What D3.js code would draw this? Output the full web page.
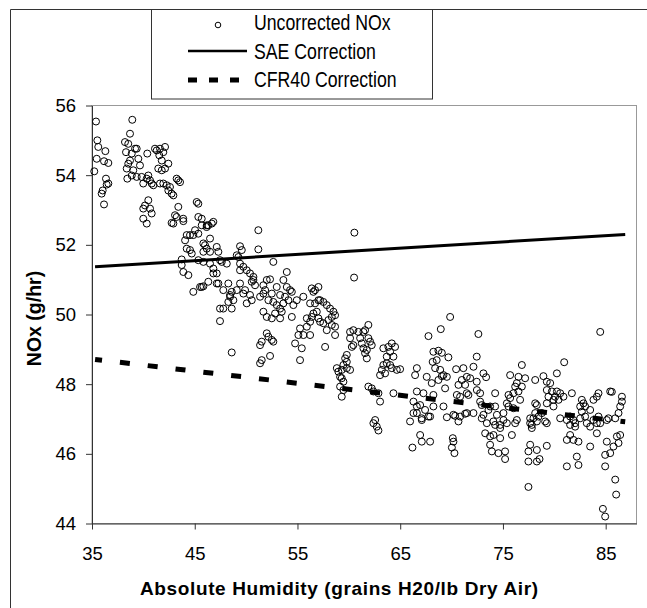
<!DOCTYPE html>
<html>
<head>
<meta charset="utf-8">
<script src="https://cdn.jsdelivr.net/npm/d3@7"></script>
<style>
body { margin:0; background:#fff; }
text { font-family: Arial, "Liberation Sans", sans-serif; }
</style>
</head>
<body>
<div id="main"></div>
<script>
// [humidity, NOx]
const noxPoints = [
[35.39,55.54],[35.52,55.00],[35.61,54.81],[35.46,54.47],[35.22,54.11],[36.30,54.69],[36.17,54.40],[36.59,54.35],[36.36,53.90],[36.59,53.76],
[36.04,53.56],[35.94,53.47],[36.17,53.16],[36.43,53.73],
[38.92,55.59],[38.70,55.19],[38.21,54.95],[38.53,54.90],[38.31,54.66],[39.19,54.76],[39.35,54.76],[38.87,54.62],[39.51,54.47],[38.70,54.42],
[38.53,54.33],[38.38,54.19],[39.02,54.14],[38.44,53.90],[38.87,53.99],[39.35,53.95],[39.67,54.28],[39.83,53.95],[39.99,53.76],[40.48,53.99],
[40.33,53.90],[40.65,53.85],[40.97,53.71],[40.81,53.76],[40.38,54.62],[41.13,54.76],[41.30,54.71],[41.62,54.76],[42.11,54.81],[41.94,54.66],
[41.55,54.57],[41.79,54.42],[42.43,54.33],[41.45,54.19],[41.79,54.14],[42.11,54.19],[41.62,53.76],[41.94,53.76],[42.27,53.71],[42.59,53.66],
[42.75,53.47],[42.92,53.42],[42.43,53.56],[43.24,53.90],[43.40,53.85],[43.57,53.80],[40.16,53.13],[39.99,53.04],[40.65,53.04],[40.81,52.90],
[39.99,52.75],[40.33,52.61],[40.48,53.28],[43.40,53.09],[43.08,52.85],[43.24,52.80],[43.88,52.75],[42.75,52.63],[45.19,53.23],[45.35,53.18],
[45.35,52.80],[45.68,52.75],[46.81,52.66],[46.32,52.56],[46.16,52.51],
[42.92,52.61],[43.89,52.68],[45.68,52.56],[46.17,52.56],[46.66,52.61],[45.03,52.42],[44.22,52.28],[44.54,52.28],[44.86,52.28],[45.35,52.32],
[46.49,52.18],[44.06,52.13],[45.84,52.04],[46.00,51.99],[44.22,51.89],[44.54,51.85],[44.71,51.75],[46.17,51.89],[46.49,51.80],[47.14,51.94],
[47.30,51.80],[49.41,51.96],[49.58,51.85],[49.09,51.70],[51.19,52.42],[51.19,51.87],[43.73,51.58],[43.73,51.42],[43.89,51.22],[44.38,51.13],
[45.35,51.56],[45.84,51.51],[46.49,51.46],[46.81,51.32],[47.14,51.18],[47.46,51.56],[48.12,51.46],[49.25,51.65],[49.41,51.46],[49.73,51.37],
[50.06,51.27],[50.38,51.18],[50.71,51.08],[50.55,50.94],[50.87,50.84],[52.65,51.51],[53.96,51.22],[52.01,50.99],[52.33,51.01],[46.32,50.94],
[45.68,50.79],[47.30,50.89],[48.27,50.89],[49.41,50.89],[47.78,50.70],[49.09,50.70],[44.86,50.65],[48.44,50.56],[49.73,50.60],[50.38,50.56],
[51.85,50.70],[52.98,50.79],[53.31,50.56],[51.36,50.51],
[45.84,50.81],[47.14,50.89],[46.81,51.18],[47.46,50.17],[47.46,49.81],
[45.84,51.80],[47.63,51.51],[60.51,51.06],[60.54,52.35],[49.41,51.27],[50.71,50.99],[45.52,50.79],[48.60,50.65],[49.90,50.70],[48.44,50.51],[48.76,50.41],
[48.27,50.36],[47.78,50.17],[48.60,50.17],[50.06,50.32],[50.55,50.41],[51.68,50.84],[53.63,50.99],[53.96,50.79],[54.28,50.70],[54.45,50.65],
[51.68,50.60],[52.50,50.60],[52.17,50.41],[52.65,50.36],[52.98,50.27],[53.31,50.17],[53.63,50.32],[53.79,50.51],[54.12,50.41],[54.60,50.27],
[54.93,50.41],[51.68,50.08],[52.01,49.93],[52.82,50.03],[53.31,49.89],[52.50,49.89],[53.47,50.08],[54.45,49.93],[55.57,50.51],[56.39,50.75],
[56.55,50.65],[56.71,50.70],[57.04,50.79],[56.23,50.32],[56.71,50.32],[57.04,50.41],[57.20,50.41],[57.52,50.36],[57.85,50.27],[58.17,50.17],
[58.50,50.08],[58.66,49.98],[58.34,49.93],[58.01,49.84],[58.34,49.70],[58.66,49.65],[57.85,49.55],[58.66,49.41],[57.04,49.89],[57.20,49.79],
[57.52,49.75],[56.88,50.08],[56.55,50.03],[56.39,49.93],[55.91,49.89],[56.23,49.79],[55.91,49.65],[55.25,49.60],[55.58,49.41],[55.09,49.41],
[54.77,49.17],[55.42,49.03],[55.25,48.69],[56.23,49.41],[57.69,49.07],[52.01,49.46],[52.17,49.36],[52.50,49.27],[52.65,49.22],[51.52,49.22],
[51.36,49.12],[51.52,48.69],[51.36,48.60],[52.33,48.81],[48.60,48.91],[60.12,49.50],[60.44,49.55],[60.93,49.50],[61.42,49.50],[61.90,49.70],
[61.58,49.55],[60.12,49.32],[60.44,49.12],[60.29,49.07],[61.10,49.32],[61.26,49.17],[61.42,49.03],[61.75,48.98],[61.58,48.89],[61.90,49.32],
[62.07,49.22],[62.23,49.12],[61.75,48.74],[59.80,48.84],[59.64,48.74],[59.80,48.64],[59.47,48.55],[59.31,48.41],[59.80,48.46],[60.12,48.41],
[58.83,48.46],[58.98,48.36],[59.15,48.21],[59.31,48.17],[59.47,48.07],[59.15,47.93],[59.47,47.83],[59.31,47.64],[61.90,47.93],[62.23,47.88],
[62.39,47.79],[62.88,47.74],[63.04,47.50],[64.34,47.74],[62.56,46.97],[62.39,46.88],[62.72,46.78],[63.36,49.03],[63.85,49.07],[64.18,49.17],
[64.50,49.07],[64.02,48.93],[64.34,48.79],[63.69,48.79],[63.36,48.55],[63.69,48.60],[64.02,48.55],[64.18,48.46],[64.67,48.41],[63.21,48.41],
[63.04,48.26],[63.53,48.31],[66.62,48.46],[66.45,48.26],[66.29,47.50],[66.62,47.36],[66.29,47.17],[65.96,46.93],[62.88,46.67],
[64.99,48.43],[69.86,49.93],[68.95,49.58],[67.75,49.38],[72.61,49.44],[84.47,49.50],[68.23,48.93],[68.72,48.96],[69.05,48.90],[69.69,48.77],
[68.16,48.64],[68.55,48.69],[68.40,48.46],[68.89,48.41],[69.21,48.26],[69.54,48.21],[69.05,48.23],[67.58,48.21],[68.07,48.03],[68.72,48.12],
[69.37,47.88],[70.44,48.43],[71.15,48.46],[72.13,48.50],[72.45,48.79],[71.48,48.21],[71.81,48.17],[71.00,48.12],[70.67,47.98],[71.32,47.98],
[72.45,48.07],[73.10,48.31],[73.36,48.20],[70.51,47.69],[70.83,47.64],[71.48,47.74],[71.64,47.69],[72.46,47.83],[72.78,47.74],[72.78,47.50],
[74.24,47.74],[66.62,47.79],[67.26,47.74],[68.23,47.69],[66.94,47.40],[67.42,47.26],[68.23,47.36],[66.62,47.17],[67.09,47.02],[67.75,47.07],
[69.21,47.36],[70.18,47.12],[70.83,47.07],[70.67,46.93],[71.48,47.17],[72.13,47.17],[72.94,47.40],[73.10,47.12],[73.59,47.26],[73.75,47.36],
[74.24,47.36],[74.41,47.12],[73.43,46.88],[74.07,46.93],[74.73,46.83],[75.05,47.17],[75.38,47.45],[75.54,47.36],[75.70,47.60],[76.02,47.74],
[76.19,47.93],[76.35,48.03],[76.51,47.79],[76.84,47.93],[75.70,48.26],[76.51,48.21],[76.84,48.55],[77.16,48.17],[76.67,47.55],[76.02,47.31],
[76.35,46.97],[76.19,46.88],[75.38,46.88],[75.54,47.69],[78.14,48.12],[78.94,48.23],[79.27,48.07],[79.60,48.03],[79.27,47.83],[79.76,47.79],
[80.08,47.64],[80.25,47.79],[80.57,47.74],[80.89,47.64],[80.41,47.55],[79.92,47.55],[79.43,47.64],[80.25,48.31],[80.96,48.63],[81.71,47.74],
[78.14,47.45],[78.30,47.40],[79.27,47.45],[78.79,47.17],[77.97,47.02],[78.30,46.93],[79.11,46.93],[77.65,46.88],[79.92,47.36],[82.68,47.55],
[82.84,47.45],[83.00,47.36],[83.49,47.26],[83.81,47.55],[84.14,47.64],[84.30,47.74],[82.52,47.36],[82.68,47.21],[83.00,47.07],[83.81,46.97],
[84.30,47.07],[81.54,47.07],[81.86,46.97],[82.03,46.88],[83.16,46.88],[84.47,46.88],[85.27,47.02],[85.44,47.79],[85.60,47.78],[86.58,47.64],
[86.58,47.50],[86.41,47.36],[86.25,47.17],[85.93,47.02],
[67.10,46.97],[67.91,47.07],[69.54,47.05],[70.35,47.09],[71.32,47.15],[72.94,47.02],[74.24,46.83],[75.05,46.97],[77.65,47.02],[77.81,46.83],
[78.14,47.17],[78.46,47.07],[79.27,46.88],[80.57,47.02],[81.22,46.97],[81.54,46.83],[82.03,46.78],[82.52,47.02],[83.49,46.78],[84.14,46.88],
[85.11,46.97],[66.94,46.54],[67.10,46.35],[67.91,46.35],[66.19,46.18],[70.12,46.45],[70.18,46.35],[70.03,46.18],[70.28,46.02],[73.27,46.59],
[73.75,46.50],[74.08,46.54],[73.75,46.26],[73.92,46.07],[74.56,46.02],[75.21,46.07],[75.21,45.85],[74.73,46.45],[74.73,46.74],[75.87,46.54],
[77.81,46.74],[77.65,46.26],[77.48,46.07],[78.30,46.11],[77.48,45.78],[78.30,45.78],[78.56,45.85],[79.27,46.23],[77.48,45.05],[81.22,46.40],
[81.86,46.40],[82.35,46.35],[81.54,46.54],[81.22,45.64],[82.19,45.92],[82.35,45.68],[83.49,46.21],[84.14,46.59],[85.11,46.35],[84.95,45.97],
[85.44,46.02],[84.95,45.64],[85.76,46.21],[86.09,46.50],[86.41,46.54],[86.25,46.31],[85.93,45.26],[86.02,44.83],[84.73,44.42],[84.95,44.20]
]

const saeHumidity = [35.3, 86.9]
const saeNox = [51.37, 52.30]
const cfrHumidity = [35.3, 86.9]
const cfrNox = [48.71, 46.92]

const xTicks = [35, 45, 55, 65, 75, 85]
const yTicks = [44, 46, 48, 50, 52, 54, 56]
const legendLabels = ["Uncorrected NOx", "SAE Correction", "CFR40 Correction"]

const cty = {}

function initViz()
{
    let svg = d3.select("#main").append("svg")
        .attr("width", 647).attr("height", 608)
        .style("display", "block")

    cty.xScale = d3.scaleLinear().domain([35, 88]).range([92, 636.5])
    cty.yScale = d3.scaleLinear().domain([44, 56]).range([523.5, 105.5])

    // outer chart frame (right / bottom sides fall outside the picture)
    svg.append("path")
        .attr("d", "M10.5,620V9.5H660")
        .attr("fill", "none").attr("stroke", "#333")

    drawPlot(svg)
    drawLegend(svg)
}

function drawPlot(svg)
{
    let x = cty.xScale, y = cty.yScale

    // plot area border, gray on top and right
    svg.append("rect")
        .attr("x", x(35)).attr("y", y(56))
        .attr("width", x(88) - x(35)).attr("height", y(44) - y(56))
        .attr("fill", "none").attr("stroke", "#999")

    let yAxis = svg.append("g")
        .attr("transform", "translate(" + x(35) + ",0)")
        .call(d3.axisLeft(y).tickValues(yTicks).tickSize(6).tickPadding(10).tickSizeOuter(0))
    let xAxis = svg.append("g")
        .attr("transform", "translate(0," + y(44) + ")")
        .call(d3.axisBottom(x).tickValues(xTicks).tickSize(6).tickPadding(17).tickSizeOuter(0))

    ;[xAxis, yAxis].forEach(a => {
        a.select(".domain").attr("stroke", "#333")
        a.selectAll(".tick line").attr("stroke", "#333")
        a.selectAll("text")
            .style("font-family", "Arial, 'Liberation Sans', sans-serif")
            .style("font-size", "18.5px").attr("fill", "#000")
    })

    svg.append("g").selectAll("circle")
        .data(noxPoints)
        .enter()
        .append("circle")
        .attr("cx", d => x(d[0]))
        .attr("cy", d => y(d[1]))
        .attr("r", 3.5)
        .attr("fill", "none")
        .attr("stroke", "#000")
        .attr("stroke-width", 1)

    let line = d3.line().x(d => x(d[0])).y(d => y(d[1]))

    svg.append("path")
        .attr("d", line(d3.zip(saeHumidity, saeNox)))
        .attr("fill", "none").attr("stroke", "#000").attr("stroke-width", 3)

    svg.append("path")
        .attr("d", line(d3.zip(cfrHumidity, cfrNox)))
        .attr("fill", "none").attr("stroke", "#000").attr("stroke-width", 5)
        .attr("stroke-dasharray", "10,18").attr("stroke-dashoffset", 3)

    svg.append("text")
        .text("Absolute Humidity (grains H20/lb Dry Air)")
        .attr("x", 140).attr("y", 595)
        .attr("textLength", 398)
        .style("font-size", "19px").style("font-weight", "bold")

    svg.append("text")
        .text("NOx (g/hr)")
        .attr("transform", "translate(41,318.5) rotate(-90)")
        .attr("text-anchor", "middle")
        .style("font-size", "19.5px").style("font-weight", "bold")
}

function drawLegend(svg)
{
    svg.append("rect")
        .attr("x", 151.5).attr("y", 9.5)
        .attr("width", 281).attr("height", 89.5)
        .attr("fill", "#fff").attr("stroke", "#333")

    let rows = [30, 59, 87]
    legendLabels.forEach((lab, i) => {
        svg.append("text")
            .text(lab)
            .attr("transform", "translate(254," + rows[i] + ") scale(1,1.2)")
            .style("font-size", "17.7px")
    })

    svg.append("circle")
        .attr("cx", 218).attr("cy", 25).attr("r", 2.8)
        .attr("fill", "none").attr("stroke", "#000")

    svg.append("line")
        .attr("x1", 188).attr("x2", 247).attr("y1", 51).attr("y2", 51)
        .attr("stroke", "#000").attr("stroke-width", 2.5)

    svg.append("line")
        .attr("x1", 188).attr("x2", 242).attr("y1", 80).attr("y2", 80)
        .attr("stroke", "#000").attr("stroke-width", 5)
        .attr("stroke-dasharray", "9,12")
}

initViz()
</script>
</body>
</html>
